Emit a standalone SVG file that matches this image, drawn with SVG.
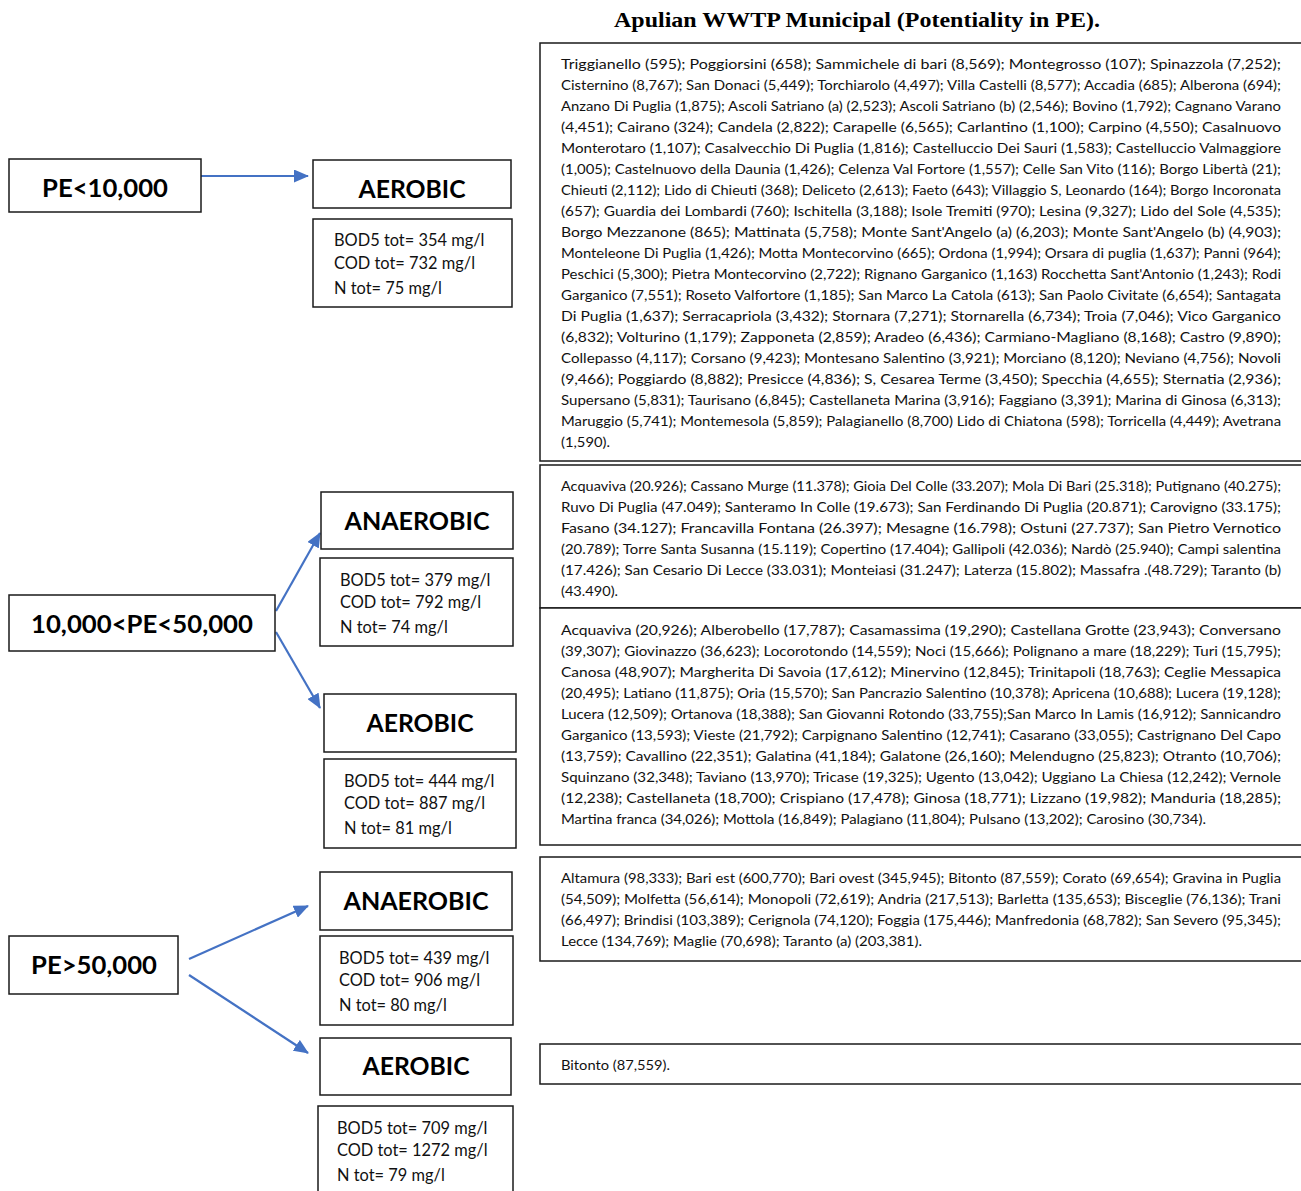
<svg xmlns="http://www.w3.org/2000/svg" width="1301" height="1191" viewBox="0 0 1301 1191">
<style>
.box{fill:#fff;stroke:#1a1a1a;stroke-width:1.5}
.t{font-family:Lato,"Open Sans","Liberation Sans",sans-serif;font-size:12.8px;fill:#111}
.p{font-family:Lato,"Open Sans","Liberation Sans",sans-serif;font-size:16.4px;fill:#111}
.b{font-family:Lato,"Open Sans","Liberation Sans",sans-serif;font-size:24px;font-weight:bold;fill:#000;text-anchor:middle}
.title{font-family:"Liberation Serif","Times New Roman",serif;font-size:22px;font-weight:bold;fill:#000;text-anchor:middle}
.c{stroke:#4472C4;stroke-width:2.2;fill:none;marker-end:url(#ah)}
</style>
<defs>
<marker id="ah" markerUnits="userSpaceOnUse" markerWidth="15" markerHeight="13" refX="14" refY="6.5" orient="auto">
<path d="M0,0 L15,6.5 L0,13 z" fill="#4472C4"/>
</marker>
</defs>
<rect width="1301" height="1191" fill="#fff"/>
<text class="title" x="857" y="27" textLength="486" lengthAdjust="spacingAndGlyphs">Apulian WWTP Municipal (Potentiality in PE).</text>

<g id="connectors">
<line class="c" x1="189" y1="176" x2="308" y2="176"/>
<line class="c" x1="276" y1="611" x2="320" y2="533"/>
<line class="c" x1="276" y1="632" x2="320" y2="708"/>
<line class="c" x1="189" y1="959" x2="308" y2="906"/>
<line class="c" x1="189" y1="975" x2="308" y2="1053"/>
</g>

<g id="pe-lt-10000">
<rect class="box" x="9" y="159" width="192" height="53"/>
<text class="b" x="105" y="197" textLength="126" lengthAdjust="spacingAndGlyphs">PE&lt;10,000</text>
</g>
<g id="aerobic-1">
<rect class="box" x="313" y="160" width="198" height="48"/>
<text class="b" x="412" y="198" textLength="107" lengthAdjust="spacingAndGlyphs">AEROBIC</text>
</g>
<g id="params-1">
<rect class="box" x="313" y="219" width="199" height="88"/>
<text class="p" x="334" y="246">BOD5 tot= 354 mg/l</text>
<text class="p" x="334" y="269">COD tot= 732 mg/l</text>
<text class="p" x="334" y="294">N tot= 75 mg/l</text>
</g>

<g id="pe-10000-50000">
<rect class="box" x="9" y="595" width="266" height="56"/>
<text class="b" x="142" y="633" textLength="222" lengthAdjust="spacingAndGlyphs">10,000&lt;PE&lt;50,000</text>
</g>
<g id="anaerobic-2">
<rect class="box" x="321" y="492" width="192" height="57"/>
<text class="b" x="417" y="530" textLength="145" lengthAdjust="spacingAndGlyphs">ANAEROBIC</text>
</g>
<g id="params-2">
<rect class="box" x="320" y="558" width="193" height="88"/>
<text class="p" x="340" y="586">BOD5 tot= 379 mg/l</text>
<text class="p" x="340" y="608">COD tot= 792 mg/l</text>
<text class="p" x="340" y="633">N tot= 74 mg/l</text>
</g>
<g id="aerobic-2">
<rect class="box" x="324" y="694" width="192" height="58"/>
<text class="b" x="420" y="732" textLength="107" lengthAdjust="spacingAndGlyphs">AEROBIC</text>
</g>
<g id="params-3">
<rect class="box" x="324" y="759" width="192" height="89"/>
<text class="p" x="344" y="787">BOD5 tot= 444 mg/l</text>
<text class="p" x="344" y="809">COD tot= 887 mg/l</text>
<text class="p" x="344" y="834">N tot= 81 mg/l</text>
</g>

<g id="pe-gt-50000">
<rect class="box" x="9" y="936" width="169" height="58"/>
<text class="b" x="94" y="974" textLength="126" lengthAdjust="spacingAndGlyphs">PE&gt;50,000</text>
</g>
<g id="anaerobic-3">
<rect class="box" x="320" y="872" width="192" height="58"/>
<text class="b" x="416" y="910" textLength="145" lengthAdjust="spacingAndGlyphs">ANAEROBIC</text>
</g>
<g id="params-4">
<rect class="box" x="320" y="936" width="193" height="89"/>
<text class="p" x="339" y="964">BOD5 tot= 439 mg/l</text>
<text class="p" x="339" y="986">COD tot= 906 mg/l</text>
<text class="p" x="339" y="1011">N tot= 80 mg/l</text>
</g>
<g id="aerobic-3">
<rect class="box" x="320" y="1038" width="191" height="57"/>
<text class="b" x="416" y="1075" textLength="107" lengthAdjust="spacingAndGlyphs">AEROBIC</text>
</g>
<g id="params-5">
<rect class="box" x="318" y="1106" width="195" height="90"/>
<text class="p" x="337" y="1134">BOD5 tot= 709 mg/l</text>
<text class="p" x="337" y="1156">COD tot= 1272 mg/l</text>
<text class="p" x="337" y="1181">N tot= 79 mg/l</text>
</g>

<g id="list-small-aerobic">
<rect class="box" x="540" y="43" width="762" height="418"/>
<text class="t" x="561" y="69" textLength="720" lengthAdjust="spacingAndGlyphs">Triggianello (595); Poggiorsini (658); Sammichele di bari (8,569); Montegrosso (107); Spinazzola (7,252);</text>
<text class="t" x="561" y="90" textLength="720" lengthAdjust="spacingAndGlyphs">Cisternino (8,767); San Donaci (5,449); Torchiarolo (4,497); Villa Castelli (8,577); Accadia (685); Alberona (694);</text>
<text class="t" x="561" y="111" textLength="720" lengthAdjust="spacingAndGlyphs">Anzano Di Puglia (1,875); Ascoli Satriano (a) (2,523); Ascoli Satriano (b) (2,546); Bovino (1,792); Cagnano Varano</text>
<text class="t" x="561" y="132" textLength="720" lengthAdjust="spacingAndGlyphs">(4,451); Cairano (324); Candela (2,822); Carapelle (6,565); Carlantino (1,100); Carpino (4,550); Casalnuovo</text>
<text class="t" x="561" y="153" textLength="720" lengthAdjust="spacingAndGlyphs">Monterotaro (1,107); Casalvecchio Di Puglia (1,816); Castelluccio Dei Sauri (1,583); Castelluccio Valmaggiore</text>
<text class="t" x="561" y="174" textLength="720" lengthAdjust="spacingAndGlyphs">(1,005); Castelnuovo della Daunia (1,426); Celenza Val Fortore (1,557); Celle San Vito (116); Borgo Libertà (21);</text>
<text class="t" x="561" y="195" textLength="720" lengthAdjust="spacingAndGlyphs">Chieuti (2,112); Lido di Chieuti (368); Deliceto (2,613); Faeto (643); Villaggio S, Leonardo (164); Borgo Incoronata</text>
<text class="t" x="561" y="216" textLength="720" lengthAdjust="spacingAndGlyphs">(657); Guardia dei Lombardi (760); Ischitella (3,188); Isole Tremiti (970); Lesina (9,327); Lido del Sole (4,535);</text>
<text class="t" x="561" y="237" textLength="720" lengthAdjust="spacingAndGlyphs">Borgo Mezzanone (865); Mattinata (5,758); Monte Sant'Angelo (a) (6,203); Monte Sant'Angelo (b) (4,903);</text>
<text class="t" x="561" y="258" textLength="720" lengthAdjust="spacingAndGlyphs">Monteleone Di Puglia (1,426); Motta Montecorvino (665); Ordona (1,994); Orsara di puglia (1,637); Panni (964);</text>
<text class="t" x="561" y="279" textLength="720" lengthAdjust="spacingAndGlyphs">Peschici (5,300); Pietra Montecorvino (2,722); Rignano Garganico (1,163) Rocchetta Sant'Antonio (1,243); Rodi</text>
<text class="t" x="561" y="300" textLength="720" lengthAdjust="spacingAndGlyphs">Garganico (7,551); Roseto Valfortore (1,185); San Marco La Catola (613); San Paolo Civitate (6,654); Santagata</text>
<text class="t" x="561" y="321" textLength="720" lengthAdjust="spacingAndGlyphs">Di Puglia (1,637); Serracapriola (3,432); Stornara (7,271); Stornarella (6,734); Troia (7,046); Vico Garganico</text>
<text class="t" x="561" y="342" textLength="720" lengthAdjust="spacingAndGlyphs">(6,832); Volturino (1,179); Zapponeta (2,859); Aradeo (6,436); Carmiano-Magliano (8,168); Castro (9,890);</text>
<text class="t" x="561" y="363" textLength="720" lengthAdjust="spacingAndGlyphs">Collepasso (4,117); Corsano (9,423); Montesano Salentino (3,921); Morciano (8,120); Neviano (4,756); Novoli</text>
<text class="t" x="561" y="384" textLength="720" lengthAdjust="spacingAndGlyphs">(9,466); Poggiardo (8,882); Presicce (4,836); S, Cesarea Terme (3,450); Specchia (4,655); Sternatia (2,936);</text>
<text class="t" x="561" y="405" textLength="720" lengthAdjust="spacingAndGlyphs">Supersano (5,831); Taurisano (6,845); Castellaneta Marina (3,916); Faggiano (3,391); Marina di Ginosa (6,313);</text>
<text class="t" x="561" y="426" textLength="720" lengthAdjust="spacingAndGlyphs">Maruggio (5,741); Montemesola (5,859); Palagianello (8,700) Lido di Chiatona (598); Torricella (4,449); Avetrana</text>
<text class="t" x="561" y="447" textLength="49" lengthAdjust="spacingAndGlyphs">(1,590).</text>
</g>

<g id="list-medium-anaerobic">
<rect class="box" x="540" y="465" width="762" height="143"/>
<text class="t" x="561" y="491" textLength="720" lengthAdjust="spacingAndGlyphs">Acquaviva (20.926); Cassano Murge (11.378); Gioia Del Colle (33.207); Mola Di Bari (25.318); Putignano (40.275);</text>
<text class="t" x="561" y="512" textLength="720" lengthAdjust="spacingAndGlyphs">Ruvo Di Puglia (47.049); Santeramo In Colle (19.673); San Ferdinando Di Puglia (20.871); Carovigno (33.175);</text>
<text class="t" x="561" y="533" textLength="720" lengthAdjust="spacingAndGlyphs">Fasano (34.127); Francavilla Fontana (26.397); Mesagne (16.798); Ostuni (27.737); San Pietro Vernotico</text>
<text class="t" x="561" y="554" textLength="720" lengthAdjust="spacingAndGlyphs">(20.789); Torre Santa Susanna (15.119); Copertino (17.404); Gallipoli (42.036); Nardò (25.940); Campi salentina</text>
<text class="t" x="561" y="575" textLength="720" lengthAdjust="spacingAndGlyphs">(17.426); San Cesario Di Lecce (33.031); Monteiasi (31.247); Laterza (15.802); Massafra .(48.729); Taranto (b)</text>
<text class="t" x="561" y="596" textLength="57" lengthAdjust="spacingAndGlyphs">(43.490).</text>
</g>

<g id="list-medium-aerobic">
<rect class="box" x="540" y="608" width="762" height="237"/>
<text class="t" x="561" y="635" textLength="720" lengthAdjust="spacingAndGlyphs">Acquaviva (20,926); Alberobello (17,787); Casamassima (19,290); Castellana Grotte (23,943); Conversano</text>
<text class="t" x="561" y="656" textLength="720" lengthAdjust="spacingAndGlyphs">(39,307); Giovinazzo (36,623); Locorotondo (14,559); Noci (15,666); Polignano a mare (18,229); Turi (15,795);</text>
<text class="t" x="561" y="677" textLength="720" lengthAdjust="spacingAndGlyphs">Canosa (48,907); Margherita Di Savoia (17,612); Minervino (12,845); Trinitapoli (18,763); Ceglie Messapica</text>
<text class="t" x="561" y="698" textLength="720" lengthAdjust="spacingAndGlyphs">(20,495); Latiano (11,875); Oria (15,570); San Pancrazio Salentino (10,378); Apricena (10,688); Lucera (19,128);</text>
<text class="t" x="561" y="719" textLength="720" lengthAdjust="spacingAndGlyphs">Lucera (12,509); Ortanova (18,388); San Giovanni Rotondo (33,755);San Marco In Lamis (16,912); Sannicandro</text>
<text class="t" x="561" y="740" textLength="720" lengthAdjust="spacingAndGlyphs">Garganico (13,593); Vieste (21,792); Carpignano Salentino (12,741); Casarano (33,055); Castrignano Del Capo</text>
<text class="t" x="561" y="761" textLength="720" lengthAdjust="spacingAndGlyphs">(13,759); Cavallino (22,351); Galatina (41,184); Galatone (26,160); Melendugno (25,823); Otranto (10,706);</text>
<text class="t" x="561" y="782" textLength="720" lengthAdjust="spacingAndGlyphs">Squinzano (32,348); Taviano (13,970); Tricase (19,325); Ugento (13,042); Uggiano La Chiesa (12,242); Vernole</text>
<text class="t" x="561" y="803" textLength="720" lengthAdjust="spacingAndGlyphs">(12,238); Castellaneta (18,700); Crispiano (17,478); Ginosa (18,771); Lizzano (19,982); Manduria (18,285);</text>
<text class="t" x="561" y="824" textLength="645" lengthAdjust="spacingAndGlyphs">Martina franca (34,026); Mottola (16,849); Palagiano (11,804); Pulsano (13,202); Carosino (30,734).</text>
</g>

<g id="list-large-anaerobic">
<rect class="box" x="540" y="857" width="762" height="104"/>
<text class="t" x="561" y="883" textLength="720" lengthAdjust="spacingAndGlyphs">Altamura (98,333); Bari est (600,770); Bari ovest (345,945); Bitonto (87,559); Corato (69,654); Gravina in Puglia</text>
<text class="t" x="561" y="904" textLength="720" lengthAdjust="spacingAndGlyphs">(54,509); Molfetta (56,614); Monopoli (72,619); Andria (217,513); Barletta (135,653); Bisceglie (76,136); Trani</text>
<text class="t" x="561" y="925" textLength="720" lengthAdjust="spacingAndGlyphs">(66,497); Brindisi (103,389); Cerignola (74,120); Foggia (175,446); Manfredonia (68,782); San Severo (95,345);</text>
<text class="t" x="561" y="946" textLength="361" lengthAdjust="spacingAndGlyphs">Lecce (134,769); Maglie (70,698); Taranto (a) (203,381).</text>
</g>

<g id="list-large-aerobic">
<rect class="box" x="540" y="1044" width="762" height="40"/>
<text class="t" x="561" y="1070" textLength="109" lengthAdjust="spacingAndGlyphs">Bitonto (87,559).</text>
</g>
</svg>
